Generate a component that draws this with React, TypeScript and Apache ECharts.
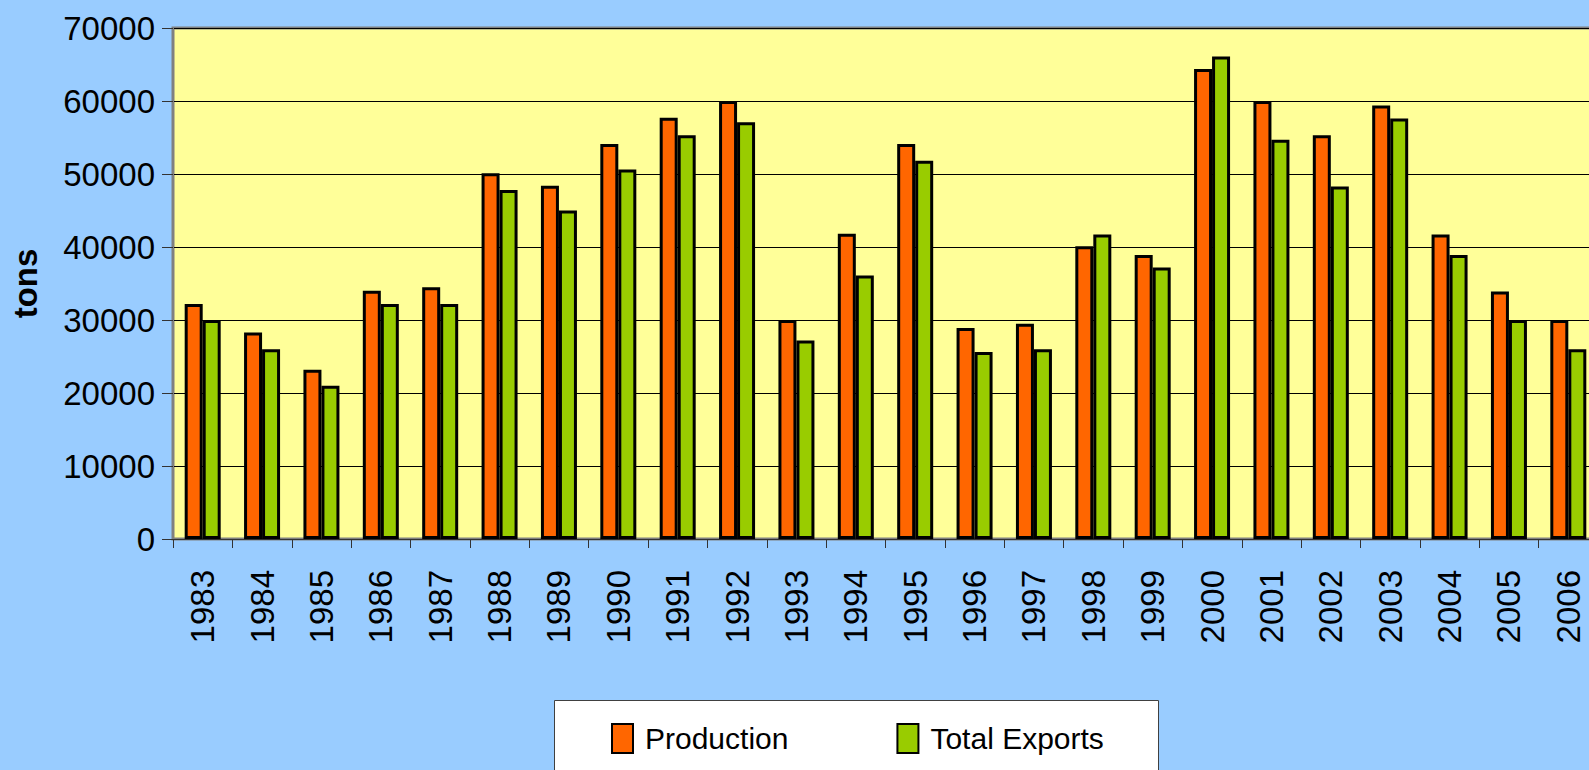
import React, { useEffect, useRef } from "react";
import * as echarts from "echarts";

const years = [
  "1983", "1984", "1985", "1986", "1987", "1988", "1989", "1990", "1991", "1992", "1993", "1994",
  "1995", "1996", "1997", "1998", "1999", "2000", "2001", "2002", "2003", "2004", "2005", "2006",
];
const production = [
  32200, 28300, 23200, 34000, 34500, 50100, 48400, 54100, 57700, 60000, 30000, 41800,
  54100, 28900, 29500, 40100, 38900, 64400, 60000, 55300, 59400, 41700, 33900, 30000,
];
const totalExports = [
  30000, 26000, 21000, 32200, 32200, 47800, 45000, 50600, 55300, 57100, 27200, 36100,
  51800, 25600, 26000, 41700, 37200, 66100, 54700, 48300, 57600, 38900, 30000, 26000,
];
const seriesNames = ["Production", "Total Exports"];
const yAxisName = "tons";

const FONT = "'Liberation Sans', Arial, Helvetica, sans-serif";

export default function App() {
  const ref = useRef<HTMLDivElement>(null);

  useEffect(() => {
    if (!ref.current) return;
    const chart = echarts.init(ref.current, null, { renderer: "svg" });
    chart.setOption({
      animation: false,
      backgroundColor: "#99CCFF",
      grid: {
        left: 173,
        top: 28,
        width: 1425,
        height: 511,
        show: true,
        backgroundColor: "#FFFF99",
        borderColor: "#808080",
        borderWidth: 3,
        containLabel: false,
        outerBoundsMode: "none",
      },
      graphic: [
        {
          type: "rect",
          z: 0,
          shape: { x: 554.5, y: 700.5, width: 604, height: 100 },
          style: { fill: "#FFFFFF", stroke: "#404040", lineWidth: 1 },
        },
      ],
      legend: {
        z: 5,
        left: 611,
        top: 723,
        padding: 0,
        itemWidth: 21,
        itemHeight: 29,
        itemGap: 108,
        icon: "rect",
        data: seriesNames,
        textStyle: {
          fontFamily: FONT,
          fontSize: 30,
          color: "#000",
          padding: [0, 0, 0, 7],
        },
      },
      xAxis: {
        type: "category",
        data: years,
        axisLine: { show: true, lineStyle: { color: "#333", width: 1 } },
        axisTick: { show: true, length: 9, lineStyle: { color: "#333" } },
        axisLabel: {
          rotate: 90,
          margin: 31,
          fontSize: 33,
          fontFamily: FONT,
          color: "#000",
        },
        splitLine: { show: false },
      },
      yAxis: {
        type: "value",
        min: 0,
        max: 70000,
        interval: 10000,
        name: yAxisName,
        nameLocation: "middle",
        nameGap: 131,
        nameRotate: 90,
        nameTextStyle: {
          fontFamily: FONT,
          fontSize: 33,
          fontWeight: "bold",
          color: "#000",
        },
        axisLine: { show: true, lineStyle: { color: "#808080", width: 2 } },
        axisTick: { show: true, length: 11, lineStyle: { color: "#333" } },
        axisLabel: {
          margin: 18,
          fontSize: 33,
          fontFamily: FONT,
          color: "#000",
          formatter: (v: number) => String(v),
        },
        splitLine: { show: true, lineStyle: { color: "#000", width: 1 } },
      },
      series: [
        {
          name: seriesNames[0],
          type: "bar",
          data: production,
          barWidth: 18,
          barGap: "0%",
          itemStyle: { color: "#FF6600", borderColor: "#000", borderWidth: 3 },
        },
        {
          name: seriesNames[1],
          type: "bar",
          data: totalExports,
          barWidth: 18,
          barGap: "0%",
          itemStyle: { color: "#99CC00", borderColor: "#000", borderWidth: 3 },
        },
      ],
    });
    return () => chart.dispose();
  }, []);

  return (
    <div
      ref={ref}
      style={{ position: "fixed", left: 0, top: 0, width: 1589, height: 770 }}
    />
  );
}
